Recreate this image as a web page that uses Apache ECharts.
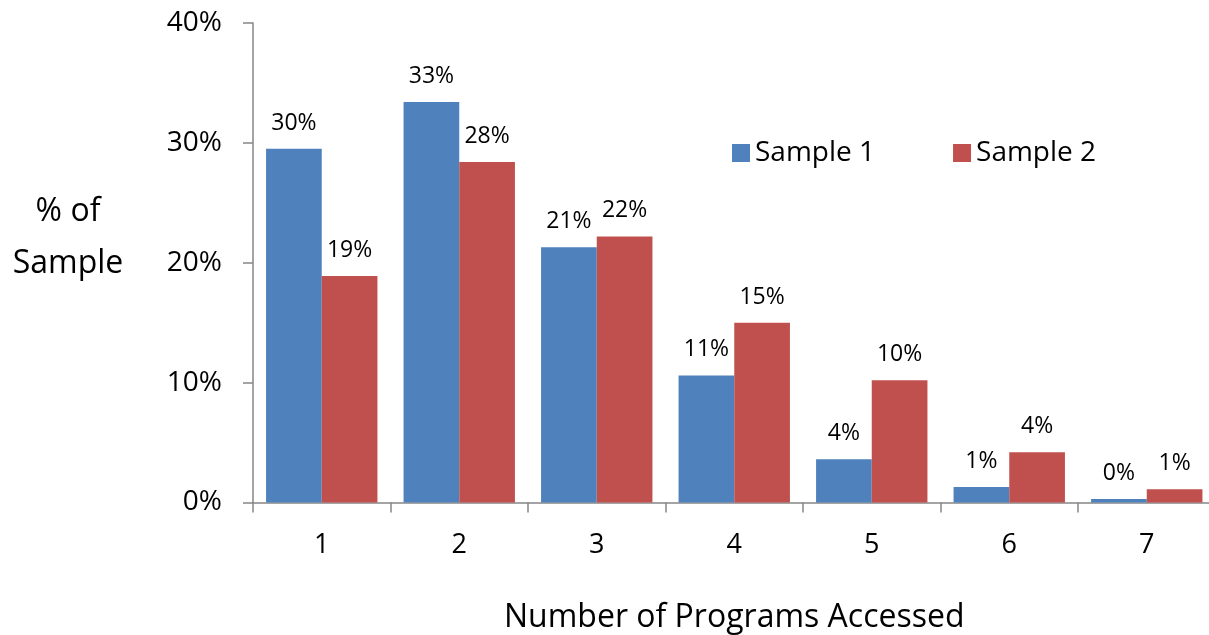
<!DOCTYPE html>
<html>
<head>
<meta charset="utf-8">
<script src="https://cdn.jsdelivr.net/npm/echarts@6/dist/echarts.min.js"></script>
<style>
  html, body { margin: 0; padding: 0; background: #fff; overflow: hidden; }
  #chart { width: 1209px; height: 635px; }
</style>
</head>
<body>
<div id="chart"></div>
<script>
// Share of each sample by number of programs accessed (percent)
const categories = ['1', '2', '3', '4', '5', '6', '7'];
const sample1 = [29.5, 33.4, 21.3, 10.6, 3.6, 1.3, 0.3];
const sample2 = [18.9, 28.4, 22.2, 15.0, 10.2, 4.2, 1.1];
const seriesNames = ['Sample 1', 'Sample 2'];
const yTicks = [0, 10, 20, 30, 40];

const FONT = '"Open Sans", "Noto Sans", sans-serif';
const AXIS_GREY = '#868686';

const chart = echarts.init(document.getElementById('chart'), null, { renderer: 'canvas' });

function barSeries(name, values, color) {
  return {
    name: name,
    type: 'bar',
    data: values,
    barGap: '0%',
    barCategoryGap: '19%',
    itemStyle: { color: color },
    label: {
      show: true,
      position: 'top',
      distance: 14,
      color: '#000',
      fontFamily: FONT,
      fontSize: 23,
      formatter: p => Math.round(p.value) + '%'
    }
  };
}

chart.setOption({
  animation: false,
  textStyle: { fontFamily: FONT },
  grid: {
    left: 253, right: -6.5, top: 23, bottom: 132.5,
    containLabel: false,
    outerBoundsMode: 'none'
  },
  legend: {
    data: seriesNames,
    left: 727,
    top: 134,
    itemWidth: 18,
    itemHeight: 18,
    itemGap: 78,
    icon: 'rect',
    textStyle: { fontFamily: FONT, fontSize: 28, color: '#000' }
  },
  xAxis: {
    type: 'category',
    data: categories,
    axisLine: { lineStyle: { color: AXIS_GREY, width: 1.5 } },
    axisTick: { show: true, length: 10, alignWithLabel: false, lineStyle: { color: AXIS_GREY, width: 1.5 } },
    axisLabel: { color: '#000', fontFamily: FONT, fontSize: 27, margin: 29 },
    name: 'Number of Programs Accessed',
    nameLocation: 'middle',
    nameGap: 99,
    nameTextStyle: { color: '#000', fontFamily: FONT, fontSize: 32 }
  },
  yAxis: {
    type: 'value',
    min: yTicks[0],
    max: yTicks[yTicks.length - 1],
    interval: 10,
    axisLine: { show: true, lineStyle: { color: AXIS_GREY, width: 1.5 } },
    axisTick: { show: true, length: 10, lineStyle: { color: AXIS_GREY, width: 1.5 } },
    splitLine: { show: false },
    axisLabel: { color: '#000', fontFamily: FONT, fontSize: 28, margin: 31, formatter: v => v + '%' }
  },
  graphic: [{
    type: 'text',
    x: 68,
    y: 238,
    style: {
      text: '% of\nSample',
      fontFamily: FONT,
      fontSize: 32,
      lineHeight: 52,
      fill: '#000',
      align: 'center',
      verticalAlign: 'middle'
    }
  }],
  series: [
    barSeries(seriesNames[0], sample1, '#4F81BD'),
    barSeries(seriesNames[1], sample2, '#C0504D')
  ]
});
</script>
</body>
</html>
